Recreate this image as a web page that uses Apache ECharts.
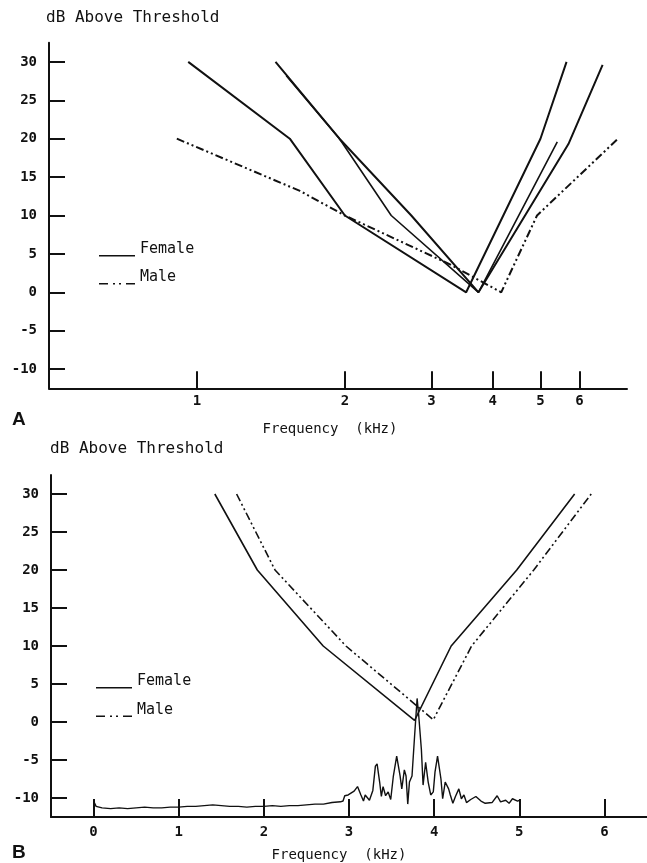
<!DOCTYPE html>
<html>
<head>
<meta charset="utf-8">
<script src="https://cdn.jsdelivr.net/npm/echarts@6/dist/echarts.min.js"></script>
<style>
  html, body { margin: 0; padding: 0; background: #fff; }
  #main { width: 647px; height: 863px; }
</style>
</head>
<body>
<div id="main"></div>
<script>
// ---- data ----
// panel A : tuning curves, frequency in kHz (log axis), level in dB above threshold
var aFemale1 = [[0.96, 30], [1.545, 20], [2.0, 10], [3.53, 0], [5.0, 20], [5.65, 30]];
var aFemale2 = [[1.445, 30], [1.95, 20], [2.73, 10], [3.74, 0], [5.7, 19.3], [6.69, 29.6]];
var aFemale3 = [[1.52, 28.2], [1.95, 20], [2.485, 10], [3.74, 0], [5.41, 19.6]];
var aMale = [[0.91, 20], [1.62, 13.2], [2.0, 10], [3.28, 3.6], [4.16, 0], [4.92, 10], [7.19, 20]];

// panel B : averaged curves (linear axis) + call spectrum
var bFemale = [[1.424, 30], [1.923, 20], [2.697, 10], [3.77, 0.2], [4.2, 10], [4.97, 20], [5.65, 30]];
var bMale = [[1.68, 30], [2.131, 20], [2.964, 10], [3.99, 0.3], [4.44, 10], [5.17, 20], [5.845, 30]];
var bSpectrum = [
  [0, -10.4], [0.03, -11.1], [0.1, -11.3], [0.2, -11.4], [0.3, -11.3], [0.4, -11.4], [0.5, -11.3],
  [0.6, -11.2], [0.7, -11.3], [0.8, -11.3], [0.9, -11.2], [1.0, -11.2], [1.1, -11.1], [1.2, -11.1],
  [1.3, -11.0], [1.4, -10.9], [1.5, -11.0], [1.6, -11.1], [1.7, -11.1], [1.8, -11.2], [1.9, -11.1],
  [2.0, -11.1], [2.1, -11.0], [2.2, -11.1], [2.3, -11.0], [2.4, -11.0], [2.5, -10.9], [2.6, -10.8],
  [2.7, -10.8], [2.8, -10.6], [2.9, -10.5], [2.93, -10.4], [2.95, -9.7], [2.99, -9.6], [3.01, -9.8],
  [3.06, -9.1], [3.10, -8.5], [3.14, -9.6], [3.17, -10.4], [3.19, -9.6], [3.21, -9.5], [3.24, -10.3],
  [3.28, -9.0], [3.31, -5.8], [3.33, -5.5], [3.36, -7.9], [3.38, -9.8], [3.40, -8.5], [3.43, -9.7],
  [3.46, -9.2], [3.49, -10.2], [3.52, -7.2], [3.56, -4.5], [3.60, -7.1], [3.62, -8.8], [3.65, -6.3],
  [3.67, -7.1], [3.69, -10.8], [3.71, -7.9], [3.74, -7.1], [3.77, -1.9], [3.80, 3.1], [3.82, 0.7],
  [3.85, -3.6], [3.87, -8.3], [3.90, -5.3], [3.93, -7.9], [3.96, -9.6], [3.99, -9.2], [4.01, -6.6],
  [4.04, -4.5], [4.08, -7.5], [4.10, -10.1], [4.13, -7.9], [4.17, -8.8], [4.19, -9.6], [4.22, -10.7],
  [4.25, -9.8], [4.29, -8.8], [4.32, -10.1], [4.35, -9.6], [4.38, -10.6], [4.43, -10.2], [4.49, -9.8],
  [4.55, -10.4], [4.60, -10.7], [4.68, -10.6], [4.74, -9.7], [4.78, -10.5], [4.84, -10.3], [4.88, -10.7],
  [4.92, -10.1], [4.98, -10.4], [5.0, -10.3]
];

// tick labels
var dbTicks = [-10, -5, 0, 5, 10, 15, 20, 25, 30];
var aFreqTicks = [1, 2, 3, 4, 5, 6];
var bFreqTicks = [0, 1, 2, 3, 4, 5, 6];

var INK = '#111';
var MONO = 'DejaVu Sans Mono';
var maleDash = [8, 3, 2, 3, 2, 3];

// legend icons : "____" and "_.._" sitting on the text baseline
var femaleIcon = 'path://M0,0 L0.01,0 L0.01,0.01 Z M0,12.4 L36,12.4 L36,14 L0,14 Z';
var maleIcon = 'path://M0,0 L0.01,0 L0.01,0.01 Z M0,12.4 L9,12.4 L9,14 L0,14 Z M14,12.4 L16,12.4 L16,14 L14,14 Z ' +
  'M20,12.4 L22,12.4 L22,14 L20,14 Z M27,12.4 L36,12.4 L36,14 L27,14 Z';

function yAxisFor(gi) {
  return {
    gridIndex: gi, type: 'value', min: -12.5, max: 32.5,
    axisLine: { show: true, onZero: false, lineStyle: { color: INK, width: 2 } },
    axisTick: { show: true, inside: true, length: 16, customValues: dbTicks, lineStyle: { color: INK, width: 2 } },
    axisLabel: { customValues: dbTicks, margin: 12, color: INK, fontFamily: MONO, fontWeight: 'bold', fontSize: 14 },
    splitLine: { show: false }
  };
}

function line(name, gx, data, dashed, width) {
  return {
    name: name, type: 'line', xAxisIndex: gx, yAxisIndex: gx, data: data,
    symbol: 'none', showSymbol: false, silent: true,
    itemStyle: { color: INK },
    lineStyle: { color: INK, width: width, type: dashed ? maleDash : 'solid' }
  };
}

var legendBase = {
  orient: 'vertical', itemWidth: 36, itemHeight: 14, itemGap: 13, padding: 0,
  selectedMode: false,
  itemStyle: { color: INK, borderWidth: 0 },
  textStyle: { fontFamily: MONO, fontSize: 15, color: INK },
  data: [{ name: 'Female', icon: femaleIcon }, { name: 'Male', icon: maleIcon }]
};

var chart = echarts.init(document.getElementById('main'));
chart.setOption({
  animation: false,
  backgroundColor: '#fff',
  title: [
    { text: 'dB Above Threshold', left: 46, top: 10, padding: 0,
      textStyle: { fontFamily: MONO, fontSize: 16, fontWeight: 'normal', color: INK } },
    { text: 'A', left: 12, top: 410, padding: 0,
      textStyle: { fontFamily: 'Liberation Sans', fontSize: 19, fontWeight: 'bold', color: INK } },
    { text: 'dB Above Threshold', left: 50, top: 441, padding: 0,
      textStyle: { fontFamily: MONO, fontSize: 16, fontWeight: 'normal', color: INK } },
    { text: 'B', left: 12, top: 843, padding: 0,
      textStyle: { fontFamily: 'Liberation Sans', fontSize: 19, fontWeight: 'bold', color: INK } }
  ],
  legend: [
    Object.assign({}, legendBase, { left: 99, top: 242 }),
    Object.assign({}, legendBase, { left: 96, top: 674, itemGap: 13.6 })
  ],
  grid: [
    { left: 49, top: 42.7, width: 578, height: 345.6 },
    { left: 51, top: 475, width: 598.5, height: 347.3 }
  ],
  xAxis: [
    {
      gridIndex: 0, type: 'log', logBase: 10, min: 0.5, max: 7.5,
      name: 'Frequency  (kHz)', nameLocation: 'middle', nameGap: 34,
      nameTextStyle: { fontFamily: MONO, fontSize: 14, color: INK, padding: [0, 16, 0, 0] },
      axisLine: { show: true, onZero: false, lineStyle: { color: INK, width: 2 } },
      axisTick: { show: true, inside: true, length: 17, customValues: aFreqTicks, lineStyle: { color: INK, width: 2 } },
      axisLabel: { customValues: aFreqTicks, margin: 6, color: INK, fontFamily: MONO, fontWeight: 'bold', fontSize: 14 },
      splitLine: { show: false }, minorTick: { show: false }
    },
    {
      gridIndex: 1, type: 'value', min: -0.5, max: 6.5,
      name: 'Frequency  (kHz)', nameLocation: 'middle', nameGap: 31,
      nameTextStyle: { fontFamily: MONO, fontSize: 14, color: INK, padding: [0, 20, 0, 0] },
      axisLine: { show: true, onZero: false, lineStyle: { color: INK, width: 2 } },
      axisTick: { show: true, inside: true, length: 18, customValues: bFreqTicks, lineStyle: { color: INK, width: 2 } },
      axisLabel: { customValues: bFreqTicks, margin: 8, color: INK, fontFamily: MONO, fontWeight: 'bold', fontSize: 14 },
      splitLine: { show: false }
    }
  ],
  yAxis: [yAxisFor(0), yAxisFor(1)],
  series: [
    line('Female', 0, aFemale1, false, 2),
    line('Female', 0, aFemale2, false, 2),
    line('Female', 0, aFemale3, false, 1.6),
    line('Male', 0, aMale, true, 2),
    line('Female', 1, bFemale, false, 1.6),
    line('Male', 1, bMale, true, 1.6),
    line('Spectrum', 1, bSpectrum, false, 1.4)
  ]
});
</script>
</body>
</html>
